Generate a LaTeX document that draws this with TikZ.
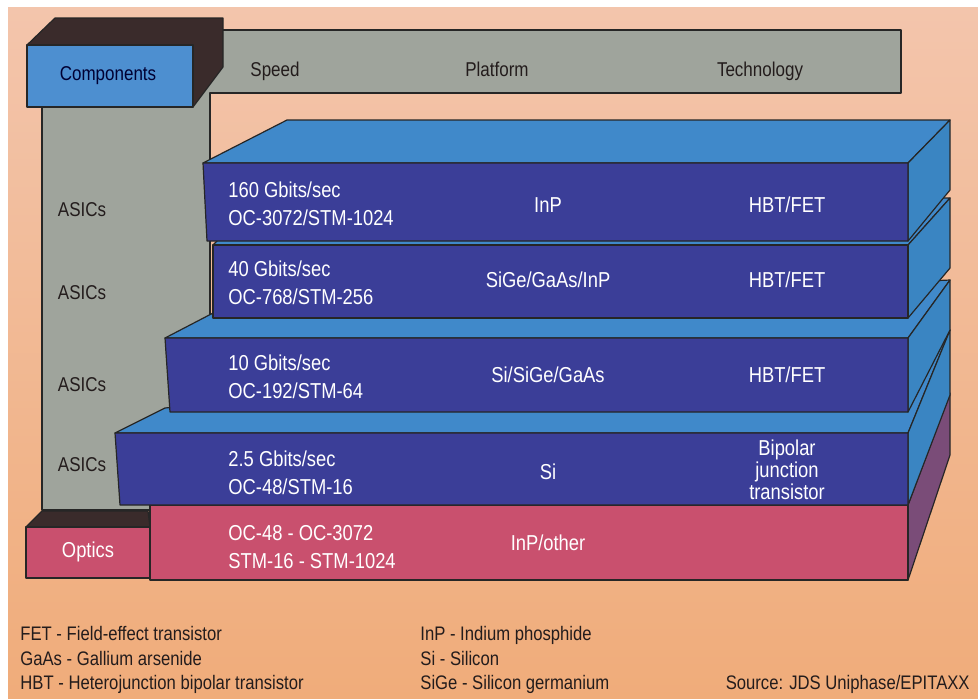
\documentclass[tikz,border=0pt]{standalone}
\usepackage{fontspec}
\setmainfont{Liberation Sans}[FakeStretch=0.85]
\usetikzlibrary{positioning}
\definecolor{bg_top}{HTML}{F3C5AC}
\definecolor{bg_bottom}{HTML}{F0AC7A}
\definecolor{gray_face}{HTML}{9FA49C}
\definecolor{comp_blue}{HTML}{4D8FD0}
\definecolor{dark_face}{HTML}{3A2B2B}
\definecolor{slab_front}{HTML}{3B3E98}
\definecolor{slab_top}{HTML}{4089CA}
\definecolor{slab_side}{HTML}{3A85C2}
\definecolor{optic_red}{HTML}{C9506E}
\definecolor{optic_side}{HTML}{7A4C78}
\definecolor{ink}{HTML}{231C1C}

\begin{document}
\begin{tikzpicture}[
    x=0.5pt, y=-0.5pt,
    font=\fontsize{10}{12}\selectfont,
    edge/.style={draw=black!85, line width=0.6pt, line join=round},
    grayface/.style={edge, fill=gray_face},
    darkface/.style={edge, fill=dark_face},
    compface/.style={edge, fill=comp_blue},
    slabfront/.style={edge, fill=slab_front},
    slabtop/.style={edge, fill=slab_top},
    slabside/.style={edge, fill=slab_side},
    opticfront/.style={edge, fill=optic_red},
    opticside/.style={edge, fill=optic_side},
    headlabel/.style={text=ink, inner sep=0pt, text height=1.45ex, text depth=0.3ex},
    rowlabel/.style={text=ink, inner sep=0pt, text height=1.45ex, text depth=0.3ex},
    speedlabel/.style={text=white, align=left, anchor=west, inner sep=0pt,
        font=\fontsize{10.8}{14}\selectfont},
    celllabel/.style={text=white, align=center, inner sep=0pt,
        font=\fontsize{10.8}{11}\selectfont},
    legend/.style={text=ink, align=left, anchor=base west, inner sep=0pt,
        font=\fontsize{9.8}{12.25}\selectfont}
]

% page and background
\fill[white] (0,0) rectangle (978,698);
\shade[top color=bg_top, bottom color=bg_bottom] (8,7) rectangle (978,698);

% header bar and ASICs column
\path[grayface] (42,80) -- (190,80) -- (190,30) -- (901,30) -- (901,93)
    -- (210,93) -- (210,510) -- (42,510) -- cycle;

% components box
\path[darkface] (27,45) -- (55,18) -- (223,18) -- (223,67) -- (193,107) -- (193,45) -- cycle;
\path[compface] (27,45) rectangle (193,107);

% optics slab
\path[opticside] (908,505) -- (950,393) -- (950,455) -- (908,580) -- cycle;
\path[opticfront] (150,505) rectangle (908,580);

% 2.5 Gbits/sec slab
\path[slabtop] (115,433) -- (165,408) -- (950,330) -- (908,433) -- cycle;
\path[slabside] (908,433) -- (950,330) -- (950,395) -- (908,505) -- cycle;
\path[slabfront] (115,433) -- (908,433) -- (908,505) -- (120,505) -- cycle;

% 10 Gbits/sec slab
\path[slabtop] (165,338) -- (215,312) -- (950,280) -- (908,338) -- cycle;
\path[slabside] (908,338) -- (950,280) -- (950,330) -- (908,412) -- cycle;
\path[slabfront] (165,338) -- (908,338) -- (908,412) -- (170,412) -- cycle;

% 40 Gbits/sec slab
\path[slabtop] (213,245) -- (260,198) -- (950,198) -- (908,245) -- cycle;
\path[slabside] (908,245) -- (950,198) -- (950,268) -- (908,318) -- cycle;
\path[slabfront] (213,245) rectangle (908,318);

% 160 Gbits/sec slab
\path[slabtop] (203,163) -- (287,120) -- (950,120) -- (908,163) -- cycle;
\path[slabside] (908,163) -- (950,120) -- (950,190) -- (908,241) -- cycle;
\path[slabfront] (203,163) -- (908,163) -- (908,241) -- (207,241) -- cycle;

% optics box
\path[darkface] (26,527) -- (42,511) -- (148,511) -- (150,527) -- cycle;
\path[opticfront] (26,527) rectangle (150,578);

% header labels
\node[headlabel, text=black!80!blue] (components) at (108,74) {Components};
\node[headlabel] (speed) at (275,70) {Speed};
\node[headlabel] (platform) at (497,70) {Platform};
\node[headlabel] (technology) at (760,70) {Technology};

% row labels
\node[rowlabel] (asics1) at (82,210) {ASICs};
\node[rowlabel] (asics2) at (82,293) {ASICs};
\node[rowlabel] (asics3) at (82,385) {ASICs};
\node[rowlabel] (asics4) at (82,465) {ASICs};
\node[rowlabel, text=white, font=\fontsize{10.8}{12}\selectfont] (optics) at (88,551) {Optics};

% speed column
\node[speedlabel] (speed160) at (228,204) {160 Gbits/sec\\OC-3072/STM-1024};
\node[speedlabel] (speed40) at (228,283) {40 Gbits/sec\\OC-768/STM-256};
\node[speedlabel] (speed10) at (228,377) {10 Gbits/sec\\OC-192/STM-64};
\node[speedlabel] (speed2) at (228,473) {2.5 Gbits/sec\\OC-48/STM-16};
\node[speedlabel] (speedopt) at (228,547) {OC-48 - OC-3072\\STM-16 - STM-1024};

% platform column
\node[celllabel] (plat160) at (548,205) {InP};
\node[celllabel] (plat40) at (548,280) {SiGe/GaAs/InP};
\node[celllabel] (plat10) at (548,375) {Si/SiGe/GaAs};
\node[celllabel] (plat2) at (548,472) {Si};
\node[celllabel] (platopt) at (548,543) {InP/other};

% technology column
\node[celllabel] (tech160) at (787,205) {HBT/FET};
\node[celllabel] (tech40) at (787,280) {HBT/FET};
\node[celllabel] (tech10) at (787,375) {HBT/FET};
\node[celllabel] (tech2) at (787,470) {Bipolar\\junction\\transistor};

% legend
\node[legend] (legfet) at (20,640) {FET - Field-effect transistor};
\node[legend] (leggaas) at (20,665) {GaAs - Gallium arsenide};
\node[legend] (leghbt) at (20,689) {HBT - Heterojunction bipolar transistor};
\node[legend] (leginp) at (420,640) {InP - Indium phosphide};
\node[legend] (legsi) at (420,665) {Si - Silicon};
\node[legend] (legsige) at (420,689) {SiGe - Silicon germanium};
\node[legend, anchor=base east] (source) at (970,689) {Source: JDS Uniphase/EPITAXX};

\end{tikzpicture}
\end{document}
